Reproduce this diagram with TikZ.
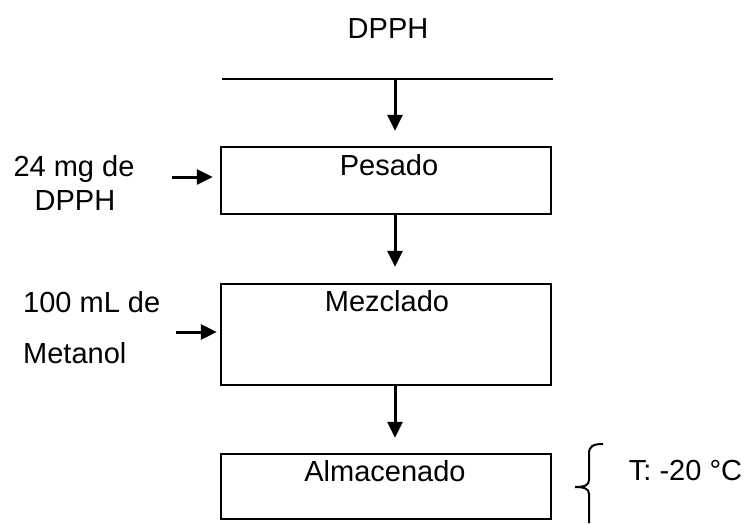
\documentclass[tikz,border=0pt]{standalone}
\usepackage{fontspec}
\setmainfont{Liberation Sans}
\usetikzlibrary{arrows.meta}
\begin{document}
\begin{tikzpicture}[x=1pt,y=-1pt,
  box/.style={draw, line width=2.4pt, minimum width=330pt, inner sep=0pt},
  lbl/.style={font=\fontsize{29}{34}\selectfont, inner sep=0pt, anchor=base},
  lblw/.style={lbl, anchor=base west},
  arr/.style={line width=3pt, -{Triangle[length=16pt,width=15pt]}},
]
\useasboundingbox (0,0) rectangle (749,523);
% title and top line
\node[lbl] (title) at (388,38) {DPPH};
\coordinate (tl) at (222,79);
\coordinate (tr) at (553,79);
\draw[line width=2pt] (tl) -- (tr);
\coordinate (topin) at (395,79);
% boxes
\node[box, minimum height=67pt] (pesado) at (386,180.5) {};
\node[box, minimum height=101pt] (mezclado) at (386,334.5) {};
\node[box, minimum height=65pt] (almacen) at (386,486.5) {};
% box texts
\node[lbl] (tpesado) at (389,175) {Pesado};
\node[lbl] (tmezclado) at (387,311) {Mezclado};
\node[lbl] (talmacen) at (385,481) {Almacenado};
% vertical arrows
\draw[arr, shorten >=15pt] (topin) -- (pesado.north -| topin);
\draw[arr, shorten >=16pt] (pesado.south -| topin) -- (mezclado.north -| topin);
\draw[arr, shorten >=15pt] (mezclado.south -| topin) -- (almacen.north -| topin);
% left inputs
\node[lbl] (in1a) at (74,176) {24 mg de};
\node[lbl] (in1b) at (75,210) {DPPH};
\node[lblw] (in2a) at (23,312) {100 mL de};
\node[lblw] (in2b) at (23,363) {Metanol};
\coordinate (a1) at (172,177);
\coordinate (a2) at (176,332);
\draw[arr, shorten >=7pt] (a1) -- (a1 -| pesado.west);
\draw[arr, shorten >=3pt] (a2) -- (a2 -| mezclado.west);
% brace and condition
\draw[line width=2pt] (603,444) .. controls (593,444) and (589,446) .. (589,454) -- (589,480) .. controls (589,485) and (585,487) .. (575,487);
\draw[line width=2pt] (575,487) .. controls (585,487) and (589,489) .. (589,494) -- (589,523);
\node[lbl] (cond) at (685.5,480) {T: -20 °C};
\end{tikzpicture}
\end{document}
